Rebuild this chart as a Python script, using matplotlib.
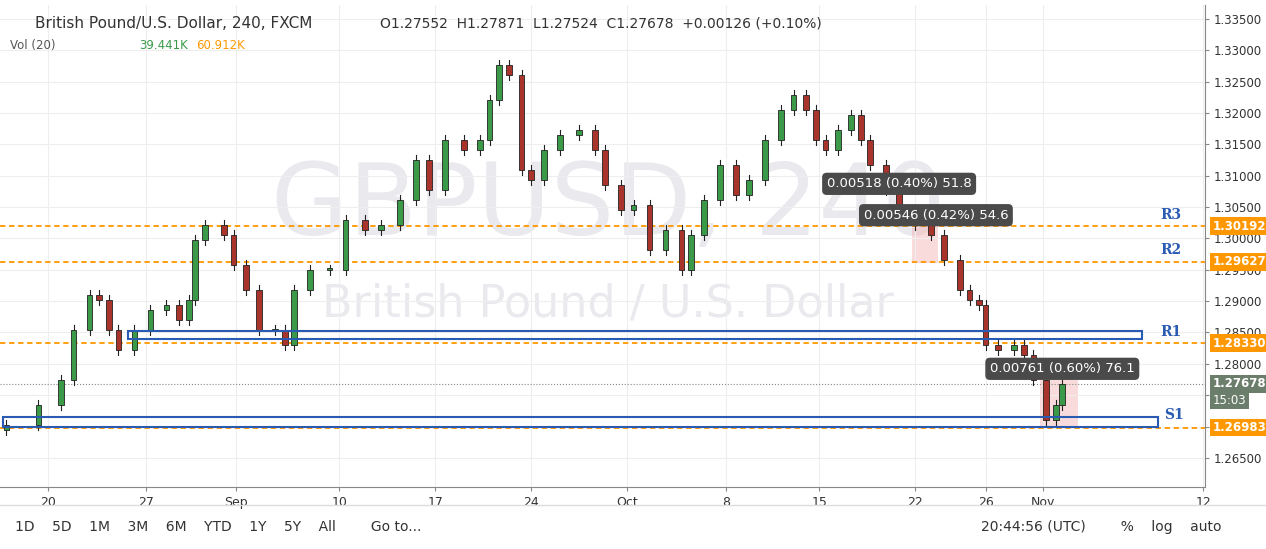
import numpy as np
from matplotlib import pyplot as plt
from matplotlib.patches import Rectangle

# bar index (4h bars, weekends skipped) and approximate closes
bars = [2, 12, 19, 23, 28, 31, 34, 37, 42, 47, 52, 56, 59, 61, 64, 70, 73, 77, 81, 86, 89, 92, 97,
        103, 108, 114, 119, 125, 130, 134, 139, 145, 150, 153, 156, 159, 163, 166, 170, 175, 181,
        186, 189, 194, 198, 203, 208, 213, 216, 220, 225, 230, 234, 239, 244, 248, 252, 255, 258,
        262, 266, 269, 272, 277, 281, 286, 291, 295, 300, 303, 306, 308, 312, 317, 320, 323, 327, 330, 332]
closes = [1.2702, 1.2734, 1.2774, 1.2854, 1.2910, 1.2902, 1.2854, 1.2822, 1.2854, 1.2886, 1.2894,
          1.2870, 1.2902, 1.2997, 1.3021, 1.3005, 1.2958, 1.2918, 1.2854, 1.2854, 1.2830, 1.2918,
          1.2950, 1.2950, 1.3030, 1.3014, 1.3022, 1.3061, 1.3125, 1.3077, 1.3157, 1.3141, 1.3157,
          1.3221, 1.3277, 1.3261, 1.3109, 1.3093, 1.3141, 1.3165, 1.3173, 1.3141, 1.3085, 1.3045,
          1.3053, 1.2982, 1.3014, 1.2950, 1.3006, 1.3061, 1.3117, 1.3069, 1.3093, 1.3157, 1.3205,
          1.3229, 1.3205, 1.3157, 1.3141, 1.3173, 1.3197, 1.3157, 1.3117, 1.3077, 1.3037, 1.3022,
          1.3006, 1.2966, 1.2918, 1.2902, 1.2894, 1.2830, 1.2822, 1.2830, 1.2814, 1.2774, 1.2710,
          1.2734, 1.2768]
opens = [1.2695] + closes[:-1]

levels = [1.30192, 1.29627, 1.28330, 1.26983]
level_names = ['R3', 'R2', '', '']
boxes = [(40, 357, 1.2840, 1.2852, 'R1'), (1, 362, 1.2699, 1.2715, 'S1')]
tick_pos = [15, 45.6, 73.7, 106, 136, 166, 196, 227, 256, 286, 308, 326, 376]
tick_lab = ['20', '27', 'Sep', '10', '17', '24', 'Oct', '8', '15', '22', '26', 'Nov', '12']
price_ticks = np.arange(1.2650, 1.3351, 0.0050)
measures = [(256, 306, 1.3087, '0.00518 (0.40%) 51.8'), (269, 316, 1.3037, '0.00546 (0.42%) 54.6'),
            (309, 355, 1.2792, '0.00761 (0.60%) 76.1')]

fig = plt.figure(figsize=(12.66, 5.49), dpi=100)
ax = fig.add_axes([0, 0.113, 1205/1266, 0.878])
ax.set_xlim(0, 376.6)
ax.set_ylim(1.26036, 1.33723)
ax.grid(True, color='#eeeeee', lw=0.8)
ax.set_xticks(tick_pos)
ax.set_xticklabels(tick_lab, fontsize=9, color='#333333')
ax.yaxis.tick_right()
ax.set_yticks(price_ticks)
ax.set_yticklabels(['' if abs(p - 1.2750) < 1e-6 or abs(p - 1.2700) < 1e-6 else '%.5f' % p for p in price_ticks],
                   fontsize=8.5, color='#333333')
for s in ['top', 'left']:
    ax.spines[s].set_visible(False)
ax.spines['right'].set_color('#888888')
ax.spines['bottom'].set_color('#888888')
ax.tick_params(length=3, colors='#888888', labelcolor='#333333')

ax.text(190, 1.3050, 'GBPUSD, 240', fontsize=72, color='#e9e9ee', ha='center', va='center', zorder=0)
ax.text(190, 1.2895, 'British Pound / U.S. Dollar', fontsize=32, color='#e9e9ee', ha='center', va='center', zorder=0)

for i in range(len(bars)):
    o, c = opens[i], closes[i]
    col = '#3a9a48' if c >= o else '#a8342b'
    hi, lo = max(o, c) + 0.0008, min(o, c) - 0.0008
    w = 1.8
    ax.plot([bars[i], bars[i]], [lo, hi], color='#222222', lw=0.8, zorder=3)
    ax.add_patch(Rectangle((bars[i] - w/2, min(o, c)), w, max(abs(c - o), 0.0002),
                           facecolor=col, edgecolor='#222222', lw=0.6, zorder=4))

for lv, nm in zip(levels, level_names):
    ax.axhline(lv, color='#ff9800', ls=(0, (3, 2)), lw=1.3, zorder=2)
    ax.text(1.0065, lv, '%.5f' % lv, transform=ax.get_yaxis_transform(), fontsize=8.5, color='white',
            va='center', fontweight='bold', zorder=10, bbox=dict(boxstyle='square,pad=0.2', fc='#ff9800', ec='none'))
    if nm:
        ax.text(366, lv + 0.0007, nm, color='#2a5bb3', fontsize=10, fontweight='bold', ha='center', va='bottom', family='serif')
ax.text(366, 1.2850, 'R1', color='#2a5bb3', fontsize=10, fontweight='bold', ha='center', va='center', family='serif')
for x0, x1, y0, y1, nm in boxes:
    ax.add_patch(Rectangle((x0, y0), x1 - x0, y1 - y0, fill=False, ec='#2a5bb3', lw=1.5, zorder=5))
ax.text(367, 1.2718, 'S1', color='#2a5bb3', fontsize=10, fontweight='bold', ha='center', va='center', family='serif')

ax.axhline(closes[-1], color='#888888', ls=':', lw=0.8, zorder=2)
ax.text(1.0065, closes[-1], '1.27678', transform=ax.get_yaxis_transform(), fontsize=8.5, color='white',
        va='center', fontweight='bold', bbox=dict(boxstyle='square,pad=0.2', fc='#6b7d6b', ec='none'))
ax.text(1.0065, 1.2742, '15:03', transform=ax.get_yaxis_transform(), fontsize=8.5, color='white',
        va='center', bbox=dict(boxstyle='square,pad=0.2', fc='#6b7d6b', ec='none'))

ax.add_patch(Rectangle((325, 1.2699), 12, 0.0076, fc='#f4b8b8', alpha=0.5, ec='none', zorder=1))
ax.add_patch(Rectangle((285, 1.2960), 8, 0.0060, fc='#f4b8b8', alpha=0.5, ec='none', zorder=1))
for x0, x1, y, txt in measures:
    ax.text((x0 + x1) / 2, y, txt, ha='center', va='center', fontsize=9.5, color='white', zorder=8,
            bbox=dict(boxstyle='round,pad=0.35', fc='#4a4a4a', ec='none'))

fig.text(0.028, 0.958, 'British Pound/U.S. Dollar, 240, FXCM', fontsize=11, color='#333333', va='center')
fig.text(0.30, 0.958, 'O1.27552  H1.27871  L1.27524  C1.27678  +0.00126 (+0.10%)', fontsize=10, color='#333333', va='center')
fig.text(0.008, 0.918, 'Vol (20)', fontsize=8.5, color='#555555', va='center')
fig.text(0.11, 0.918, '39.441K', fontsize=8.5, color='#3a9a48', va='center')
fig.text(0.155, 0.918, '60.912K', fontsize=8.5, color='#ff9800', va='center')
fig.text(0.012, 0.040, '1D    5D    1M    3M    6M    YTD    1Y    5Y    All        Go to...',
         fontsize=10, color='#333333', va='center')
fig.text(0.775, 0.040, '20:44:56 (UTC)        %    log    auto', fontsize=10, color='#333333', va='center')
fig.add_artist(plt.Line2D([0, 1], [0.08, 0.08], color='#dddddd', lw=1))
fig.savefig('out.png', dpi=100)
